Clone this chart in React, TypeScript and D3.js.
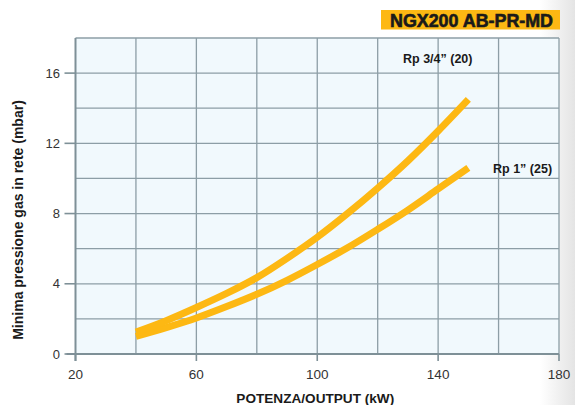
import { useEffect, useRef } from 'react'
import * as d3 from 'd3'

// Potenza (kW) sampled along the curves
const powerKW = [40, 50, 60, 70, 80, 90, 100, 110, 120, 130, 140, 150]
// Rp 3/4" (20)
const rp34 = [1.25, 1.9, 2.65, 3.45, 4.35, 5.45, 6.65, 8.0, 9.45, 11.0, 12.7, 14.5]
// Rp 1" (25)
const rp1 = [1.0, 1.5, 2.05, 2.7, 3.4, 4.2, 5.1, 6.05, 7.1, 8.2, 9.4, 10.6]

const xTicks = [20, 60, 100, 140, 180]
const yTicks = [0, 4, 8, 12, 16]
const xGrid = [40, 60, 80, 100, 120, 140, 160, 180]
const yGrid = [2, 4, 6, 8, 10, 12, 14, 16, 18]

const title = 'NGX200 AB-PR-MD'
const xTitle = 'POTENZA/OUTPUT (kW)'
const yTitle = 'Minima pressione gas in rete (mbar)'
const seriesLabels = ['Rp 3/4” (20)', 'Rp 1” (25)']

const W = 575
const H = 405
const FONT = '"Liberation Sans", Arial, Helvetica, sans-serif'
const ORANGE = '#fdb813'
const GRID = '#8d9ea6'

export default function App() {
  const svgRef = useRef<SVGSVGElement>(null)

  useEffect(() => {
    document.body.style.margin = '0'
    if (!svgRef.current) return
    const svg = d3.select(svgRef.current)
    svg.selectAll('*').remove()

    const x = d3.scaleLinear().domain([20, 180]).range([75.5, 559])
    const y = d3.scaleLinear().domain([0, 18]).range([354, 38])

    // page background w/ faint grey on the right edge
    const defs = svg.append('defs')
    const grad = defs.append('linearGradient').attr('id', 'edge').attr('x1', 0).attr('x2', 1)
    grad.append('stop').attr('offset', 0).attr('stop-color', '#ffffff')
    grad.append('stop').attr('offset', 1).attr('stop-color', '#e4e4e4')
    svg.append('rect').attr('width', W).attr('height', H).attr('fill', '#fff')
    svg.append('rect').attr('x', 540).attr('width', 35).attr('height', H).attr('fill', 'url(#edge)')

    // plot area
    svg.append('rect')
      .attr('x', x(20)).attr('y', y(18))
      .attr('width', x(180) - x(20)).attr('height', y(0) - y(18))
      .attr('fill', '#f1f9fd')

    const g = svg.append('g')
    g.selectAll('line.hg')
      .data(yGrid)
      .join('line')
      .attr('x1', x(20)).attr('x2', x(180))
      .attr('y1', d => y(d)).attr('y2', d => y(d))
      .attr('stroke', GRID).attr('stroke-width', 1.3)
    g.selectAll('line.vg')
      .data(xGrid)
      .join('line')
      .attr('x1', d => x(d)).attr('x2', d => x(d))
      .attr('y1', y(0)).attr('y2', y(18))
      .attr('stroke', GRID).attr('stroke-width', 1.3)

    // axes
    const axisColor = '#7e9097'
    svg.append('line')
      .attr('x1', x(20)).attr('x2', x(20))
      .attr('y1', y(18)).attr('y2', y(0) + 7)
      .attr('stroke', axisColor).attr('stroke-width', 2)
    svg.append('line')
      .attr('x1', x(20) - 9).attr('x2', x(180))
      .attr('y1', y(0)).attr('y2', y(0))
      .attr('stroke', axisColor).attr('stroke-width', 2)

    svg.selectAll('line.yt')
      .data(yTicks)
      .join('line')
      .attr('x1', x(20) - 11).attr('x2', x(20))
      .attr('y1', d => y(d)).attr('y2', d => y(d))
      .attr('stroke', axisColor).attr('stroke-width', 1.6)
    svg.selectAll('line.xt')
      .data(xTicks)
      .join('line')
      .attr('x1', d => x(d)).attr('x2', d => x(d))
      .attr('y1', y(0)).attr('y2', y(0) + 7)
      .attr('stroke', axisColor).attr('stroke-width', 1.6)

    svg.selectAll('text.yl')
      .data(yTicks)
      .join('text')
      .attr('x', 60).attr('y', d => y(d) + 4.5)
      .attr('text-anchor', 'end')
      .attr('font-family', FONT).attr('font-size', 13)
      .attr('fill', '#333')
      .text(d => d)
    svg.selectAll('text.xl')
      .data(xTicks)
      .join('text')
      .attr('x', d => x(d)).attr('y', 378.5)
      .attr('text-anchor', 'middle')
      .attr('font-family', FONT).attr('font-size', 13.5)
      .attr('fill', '#333')
      .text(d => d)

    // curves
    const line = d3.line<number>()
      .x((_, i) => x(powerKW[i]))
      .y(d => y(d))
      .curve(d3.curveMonotoneX)
    ;[rp1, rp34].forEach(s => {
      svg.append('path')
        .attr('d', line(s))
        .attr('fill', 'none')
        .attr('stroke', ORANGE)
        .attr('stroke-width', 7)
        .attr('stroke-linecap', 'butt')
    })

    // series labels
    svg.append('text')
      .attr('x', 403).attr('y', 62.5)
      .attr('font-family', FONT).attr('font-size', 12.5).attr('font-weight', 'bold')
      .attr('fill', '#1a1a1a')
      .text(seriesLabels[0])
    svg.append('text')
      .attr('x', 493).attr('y', 173)
      .attr('font-family', FONT).attr('font-size', 12.5).attr('font-weight', 'bold')
      .attr('fill', '#1a1a1a')
      .text(seriesLabels[1])

    // title box
    svg.append('rect')
      .attr('x', 381).attr('y', 10).attr('width', 179).attr('height', 19.5)
      .attr('fill', ORANGE)
    svg.append('text')
      .attr('x', 390).attr('y', 26.5)
      .attr('font-family', FONT).attr('font-size', 17.5).attr('font-weight', 'bold')
      .attr('fill', '#1a1a1a')
      .attr('stroke', '#1a1a1a').attr('stroke-width', 0.6)
      .attr('textLength', 163).attr('lengthAdjust', 'spacingAndGlyphs')
      .text(title)

    // axis titles
    svg.append('text')
      .attr('x', (x(20) + x(180)) / 2 - 2).attr('y', 403)
      .attr('text-anchor', 'middle')
      .attr('font-family', FONT).attr('font-size', 13.6).attr('font-weight', 'bold')
      .attr('fill', '#1a1a1a')
      .text(xTitle)
    svg.append('text')
      .attr('transform', `translate(23,${220}) rotate(-90)`)
      .attr('text-anchor', 'middle')
      .attr('font-family', FONT).attr('font-size', 14).attr('font-weight', 'bold')
      .attr('fill', '#1a1a1a')
      .text(yTitle)
  }, [])

  return (
    <svg
      ref={svgRef}
      width={W}
      height={H}
      style={{ display: 'block', position: 'absolute', left: 0, top: 0 }}
    />
  )
}
